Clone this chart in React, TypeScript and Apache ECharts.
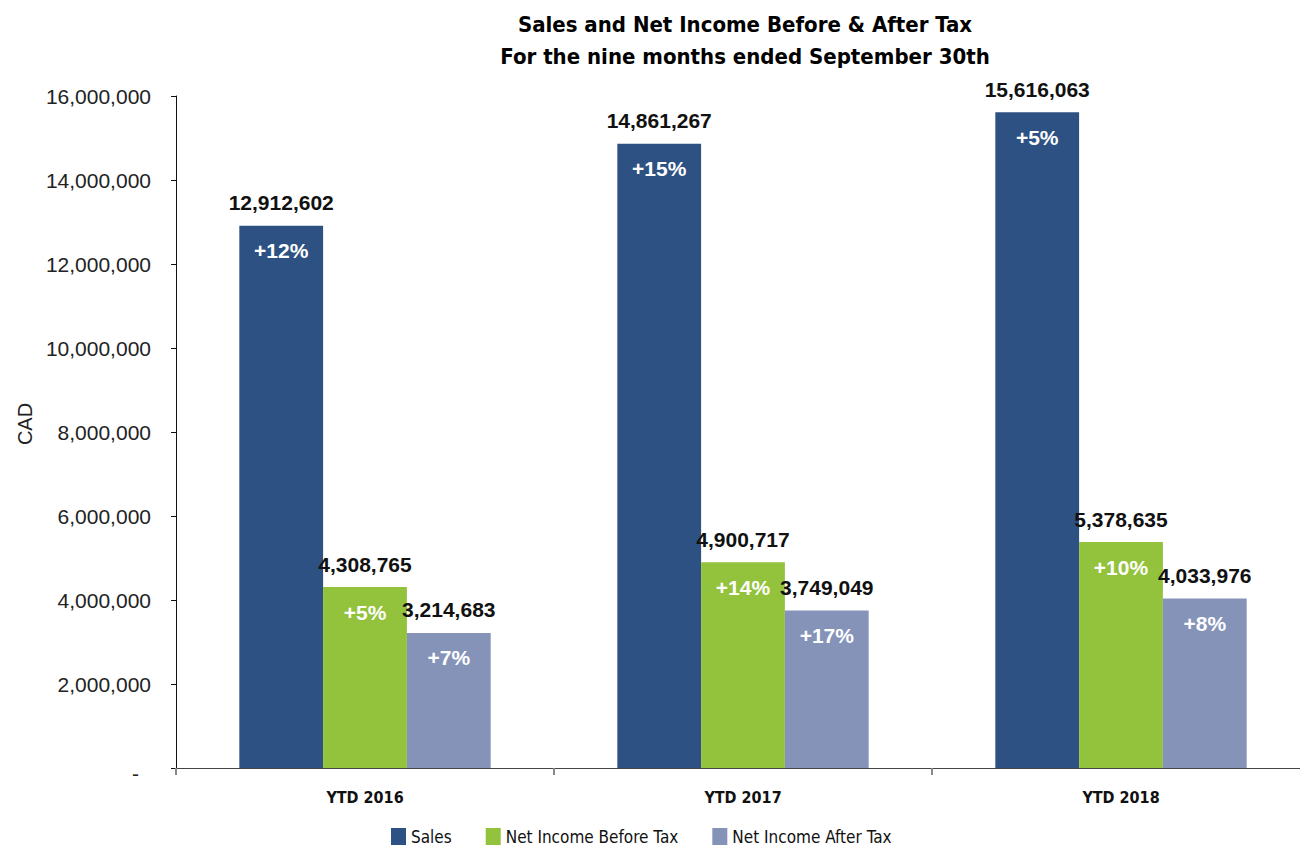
import React, { useEffect, useRef } from "react";
import * as echarts from "echarts";

const categories = ["YTD 2016", "YTD 2017", "YTD 2018"];
const salesValues = [12912602, 14861267, 15616063];
const beforeTaxValues = [4308765, 4900717, 5378635];
const afterTaxValues = [3214683, 3749049, 4033976];
const salesGrowth = ["+12%", "+15%", "+5%"];
const beforeTaxGrowth = ["+5%", "+14%", "+10%"];
const afterTaxGrowth = ["+7%", "+17%", "+8%"];
const seriesNames = ["Sales", "Net Income Before Tax", "Net Income After Tax"];
const titleLines = ["Sales and Net Income Before & After Tax", "For the nine months ended September 30th"];
const yTickMax = 16000000;
const yTickStep = 2000000;

const COLORS = ["#2E5183", "#93C23C", "#8593B9"];
const SANS = "'Liberation Sans', Arial, sans-serif";
const NARROW = "'Liberation Sans Narrow', 'Arial Narrow', 'DejaVu Sans Condensed', sans-serif";

const fmt = (v: number) => v.toLocaleString("en-US");

function makeSeries(name: string, values: number[], growth: string[], color: string) {
  return {
    name,
    type: "bar",
    data: values,
    barGap: "0%",
    barCategoryGap: "33.5%",
    itemStyle: { color },
    label: {
      show: true,
      position: "insideTop",
      distance: 0,
      offset: [0, -47],
      formatter: (p: any) => `{v|${fmt(p.value)}}\n{p|${growth[p.dataIndex]}}`,
      rich: {
        v: { fontSize: 21, fontWeight: "bold", color: "#111", lineHeight: 48, fontFamily: SANS },
        p: { fontSize: 21, fontWeight: "bold", color: "#fff", lineHeight: 48, fontFamily: SANS },
      },
    },
  };
}

export default function App() {
  const ref = useRef<HTMLDivElement>(null);
  useEffect(() => {
    if (!ref.current) return;
    const chart = echarts.init(ref.current, null, { renderer: "svg" });
    chart.setOption({
      animation: false,
      backgroundColor: "#fff",
      graphic: [
        {
          type: "text",
          x: 745,
          y: 24,
          style: {
            text: titleLines[0],
            align: "center",
            verticalAlign: "middle",
            font: `bold 22px ${NARROW}`,
            fill: "#000",
          },
        },
        {
          type: "text",
          x: 745,
          y: 56,
          style: {
            text: titleLines[1],
            align: "center",
            verticalAlign: "middle",
            font: `bold 22px ${NARROW}`,
            fill: "#000",
          },
        },
        {
          type: "text",
          x: 25,
          y: 424,
          rotation: Math.PI / 2,
          style: {
            text: "CAD",
            align: "center",
            verticalAlign: "middle",
            font: `20px ${SANS}`,
            fill: "#222",
          },
        },
      ],
      grid: { left: 176, right: 10, top: 96, bottom: 80, containLabel: false },
      legend: {
        left: 391,
        top: 828,
        padding: 0,
        itemWidth: 15,
        itemHeight: 17,
        itemGap: 34,
        icon: "rect",
        selectedMode: false,
        data: seriesNames,
        textStyle: { fontSize: 17, fontFamily: NARROW, color: "#111" },
      },
      xAxis: {
        type: "category",
        data: categories,
        axisLine: { lineStyle: { color: "#444", width: 1 } },
        axisTick: { show: true, alignWithLabel: false, length: 7, lineStyle: { color: "#888", width: 2 } },
        axisLabel: { margin: 21, fontSize: 16, fontWeight: "bold", fontFamily: NARROW, color: "#111" },
      },
      yAxis: {
        type: "value",
        min: 0,
        max: yTickMax,
        interval: yTickStep,
        splitLine: { show: false },
        axisLine: { show: true, lineStyle: { color: "#111", width: 1 } },
        axisTick: { show: true, length: 5, lineStyle: { color: "#111" } },
        axisLabel: {
          margin: 25,
          fontSize: 21,
          fontFamily: SANS,
          color: "#222",
          formatter: (v: number) => (v === 0 ? "{z|-}" : fmt(v)),
          rich: { z: { fontSize: 21, fontFamily: SANS, color: "#222", padding: [10, 12, 0, 0] } },
        },
      },
      series: [
        makeSeries(seriesNames[0], salesValues, salesGrowth, COLORS[0]),
        makeSeries(seriesNames[1], beforeTaxValues, beforeTaxGrowth, COLORS[1]),
        makeSeries(seriesNames[2], afterTaxValues, afterTaxGrowth, COLORS[2]),
      ],
    });
    return () => chart.dispose();
  }, []);
  return (
    <div style={{ position: "absolute", left: 0, top: 0, width: 1300, height: 848, overflow: "hidden" }}>
      <div ref={ref} style={{ width: 1320, height: 848 }} />
    </div>
  );
}
